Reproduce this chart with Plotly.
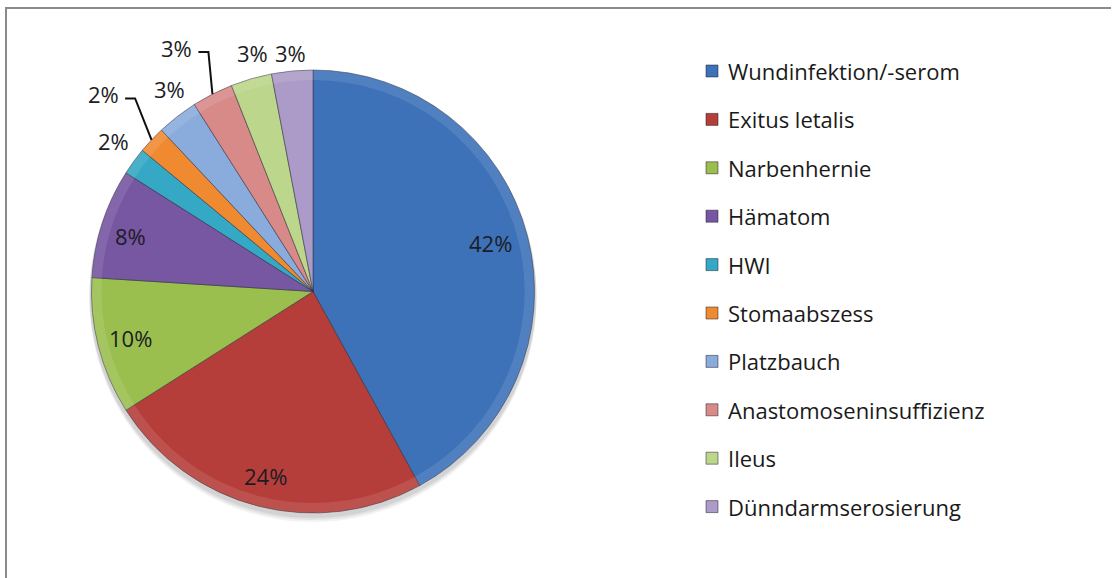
import math
import plotly.graph_objects as go

# Complication categories and their shares (percent)
categories = [
    "Wundinfektion/-serom",
    "Exitus letalis",
    "Narbenhernie",
    "Hämatom",
    "HWI",
    "Stomaabszess",
    "Platzbauch",
    "Anastomoseninsuffizienz",
    "Ileus",
    "Dünndarmserosierung",
]
shares = [42, 24, 10, 8, 2, 2, 3, 3, 3, 3]

colors = [
    "#3D72B9", "#B63E3A", "#9ABF4E", "#7756A2", "#35A8C5",
    "#F08A31", "#8AACDC", "#D88A89", "#BCD68B", "#AC9BC8",
]

# ---- layout geometry (pixels) ----
W, H = 1119, 578
cx, cy, R = 313, 291.5, 221.5

# per-slice label placement: radius factor and small angular nudge (deg)
label_rfac = [0.83, 0.86, 0.85, 0.86, 1.13, 1.30, 1.12, 1.26, 1.11, 1.08]
label_nudge = [-1, 0, 0, -1, 1, 0, 2.5, -2.3, 2, 0]
leader = [False, False, False, False, False, True, False, True, False, False]

FONT = "Open Sans"
FSIZE = 22


def px(x):
    return x / W


def py(y):
    return 1 - y / H


dom = dict(x=[px(cx - R), px(cx + R)], y=[py(cy + R), py(cy - R)])

fig = go.Figure()

fig.add_trace(go.Pie(
    labels=categories,
    values=shares,
    sort=False,
    direction="clockwise",
    rotation=0,
    marker=dict(colors=colors, line=dict(color="rgba(40,40,60,0.5)", width=1)),
    textinfo="none",
    hoverinfo="label+percent",
    showlegend=False,
    domain=dom,
))

# faint bevel highlight along the rim
fig.add_trace(go.Pie(
    labels=categories,
    values=shares,
    sort=False,
    direction="clockwise",
    rotation=0,
    hole=0.955,
    marker=dict(colors=["rgba(255,255,255,0.10)"] * len(shares),
                line=dict(width=0)),
    textinfo="none",
    hoverinfo="skip",
    showlegend=False,
    domain=dom,
))

shapes = []
annotations = []

# drop shadow under the pie
for dy, op in [(7, 0.05), (5, 0.06), (3, 0.07)]:
    rr = R + 2
    shapes.append(dict(
        type="circle", xref="paper", yref="paper", layer="below",
        x0=px(cx - rr), x1=px(cx + rr), y0=py(cy + dy + rr), y1=py(cy + dy - rr),
        fillcolor=f"rgba(0,0,0,{op})", line=dict(width=0),
    ))

# percentage labels
total = sum(shares)
cum = 0.0
for i, v in enumerate(shares):
    a0 = cum / total * 360
    cum += v
    a1 = cum / total * 360
    mid = (a0 + a1) / 2
    ang = math.radians(mid + label_nudge[i])
    r = R * label_rfac[i]
    lx = cx + r * math.sin(ang)
    ly = cy - r * math.cos(ang)
    annotations.append(dict(
        x=px(lx), y=py(ly), xref="paper", yref="paper",
        text=f"{v}%", showarrow=False, xanchor="center", yanchor="middle",
        font=dict(family=FONT, size=FSIZE, color="#1c1c24"),
    ))
    if leader[i]:
        m = math.radians(mid)
        ex = cx + R * math.sin(m)
        ey = cy - R * math.cos(m)
        hx0, hx1, hy = lx + 22, lx + 32, ly + 4
        shapes.append(dict(
            type="path", xref="paper", yref="paper",
            path=f"M {px(hx0)} {py(hy)} L {px(hx1)} {py(hy)} L {px(ex)} {py(ey)}",
            line=dict(color="#111111", width=2),
        ))

# legend drawn by hand for its wide row spacing
leg_x, leg_y0, leg_dy, sq = 706, 71, 48.4, 12
for i, (name, c) in enumerate(zip(categories, colors)):
    yc = leg_y0 + i * leg_dy
    shapes.append(dict(
        type="rect", xref="paper", yref="paper",
        x0=px(leg_x), x1=px(leg_x + sq), y0=py(yc + sq / 2), y1=py(yc - sq / 2),
        fillcolor=c, line=dict(color="rgba(30,30,40,0.5)", width=1),
    ))
    annotations.append(dict(
        x=px(leg_x + sq + 8), y=py(yc), xref="paper", yref="paper",
        text=name, showarrow=False, xanchor="left", yanchor="middle",
        font=dict(family=FONT, size=FSIZE, color="#1a1a1a"),
    ))

# chart-area frame (top and left edges visible)
shapes.append(dict(type="line", xref="paper", yref="paper",
                   x0=px(5), x1=px(1111), y0=py(8), y1=py(8),
                   line=dict(color="#8a8a8a", width=2)))
shapes.append(dict(type="line", xref="paper", yref="paper",
                   x0=px(6), x1=px(6), y0=py(8), y1=py(H + 5),
                   line=dict(color="#8a8a8a", width=2)))

fig.update_layout(
    width=W, height=H,
    margin=dict(l=0, r=0, t=0, b=0),
    paper_bgcolor="white",
    plot_bgcolor="white",
    shapes=shapes,
    annotations=annotations,
    showlegend=False,
)

fig.write_html("out.html")
